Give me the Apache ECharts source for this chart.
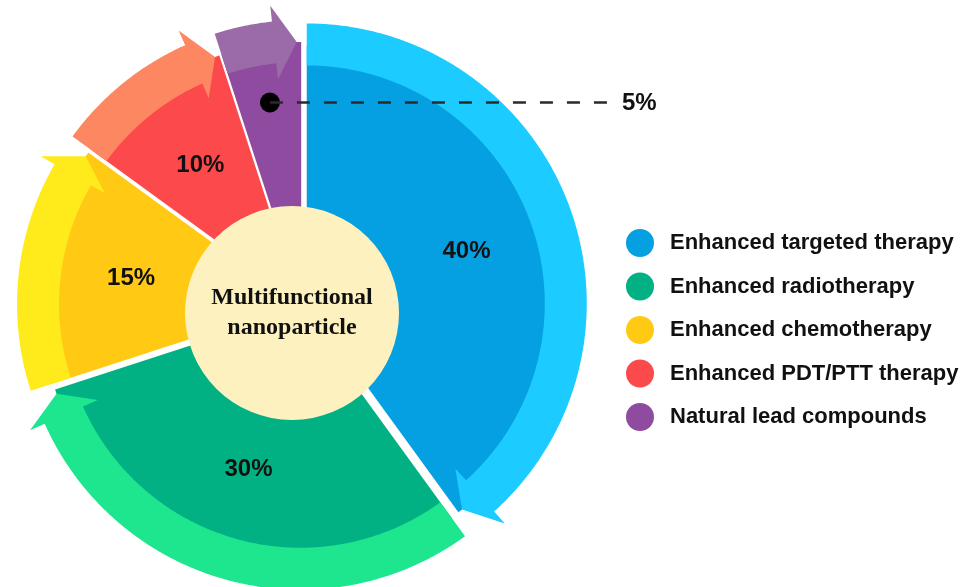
<!DOCTYPE html>
<html><head><meta charset="utf-8">
<script src="https://cdn.jsdelivr.net/npm/echarts@6/dist/echarts.min.js"></script>
<style>html,body{margin:0;padding:0;background:#fff}#c{width:962px;height:587px}</style>
</head><body><div id="c"></div>
<script>
// ---- data ----
const categories = ['Enhanced targeted therapy', 'Enhanced radiotherapy', 'Enhanced chemotherapy', 'Enhanced PDT/PTT therapy', 'Natural lead compounds'];
const values = [40, 30, 15, 10, 5];
const valueLabels = ['40%', '30%', '15%', '10%', '5%'];
const centerTitle = 'Multifunctional\nnanoparticle';

// ---- styles ----
const darkColors = ['#05A0E1', '#02B183', '#FFC914', '#FC4A4C', '#8E4B9F'];
const bandColors = ['#1CCBFF', '#1EE68F', '#FFEA1B', '#FC8760', '#9B6BA8'];
const creamColor = '#FEF1C0';

const starts = [];
let acc = 0;
values.forEach(v => { starts.push(acc); acc += v; });
const total = acc;

const R_DARK = 258, R_IN = 238, R_OUT = 280, R_TIP = 258, BARB_IN = 222, BARB_OUT = 296;
const HEAD = 6 / 360 * total, TIP_BACK = 1 / 360 * total;
const EXPLODE = 5, LABEL_R = 168, CALLOUT_R = 200, CALLOUT_END_X = 610, SMALL = 8;
const FONT_SANS = 'Liberation Sans, Arial, sans-serif';

function makeRender(i) {
  return function (params, api) {
    const s = api.value(0), e = api.value(1);
    const c = api.coord([0, 0]);
    const mid = (s + e) / 2;
    const m = api.coord([1, mid]);
    const ox = (m[0] - c[0]) * EXPLODE, oy = (m[1] - c[1]) * EXPLODE;
    const P = (r, a) => { const p = api.coord([r, a]); return [p[0] + ox, p[1] + oy]; };
    const arc = (r, a0, a1) => {
      const n = Math.max(2, Math.ceil(Math.abs(a1 - a0) / 0.1));
      const pts = [];
      for (let k = 0; k <= n; k++) pts.push(P(r, a0 + (a1 - a0) * k / n));
      return pts;
    };
    const dark = [P(0, s)].concat(arc(R_DARK, s, e));
    const band = arc(R_OUT, s, e - HEAD).concat(
      [P(BARB_OUT, e - HEAD), P(R_TIP, e - TIP_BACK), P(BARB_IN, e - HEAD)],
      arc(R_IN, e - HEAD, s));
    const children = [
      { type: 'polygon', shape: { points: dark }, style: { fill: darkColors[i] } },
      { type: 'polygon', shape: { points: band }, style: { fill: bandColors[i] } }
    ];
    if (values[i] >= SMALL) {
      const lp = P(LABEL_R, mid);
      children.push({ type: 'text', z2: 5, style: { text: valueLabels[i], x: lp[0], y: lp[1], align: 'center', verticalAlign: 'middle', fill: '#111', font: 'bold 24px ' + FONT_SANS } });
    } else {
      const dp = P(CALLOUT_R, mid);
      children.push({ type: 'circle', z2: 5, shape: { cx: dp[0], cy: dp[1], r: 10 }, style: { fill: '#000' } });
      children.push({ type: 'line', z2: 6, shape: { x1: dp[0], y1: dp[1], x2: CALLOUT_END_X, y2: dp[1] }, style: { stroke: '#2a2a2a', lineWidth: 2.6, lineDash: [13, 14] } });
      children.push({ type: 'text', z2: 5, style: { text: valueLabels[i], x: CALLOUT_END_X + 12, y: dp[1] + 1, align: 'left', verticalAlign: 'middle', fill: '#111', font: 'bold 24px ' + FONT_SANS } });
    }
    return { type: 'group', children: children };
  };
}

const series = categories.map((name, i) => ({
  type: 'custom',
  name: name,
  coordinateSystem: 'polar',
  clip: false,
  silent: true,
  itemStyle: { color: darkColors[i] },
  data: [[starts[i], starts[i] + values[i]]],
  renderItem: makeRender(i),
  z: 2
}));

series.push({
  type: 'pie',
  name: 'center',
  silent: true,
  z: 5,
  center: [292, 313],
  radius: [0, 107],
  emphasis: { disabled: true },
  itemStyle: { color: creamColor },
  labelLine: { show: false },
  label: {
    show: true, position: 'center', formatter: centerTitle,
    fontFamily: 'Liberation Serif, Times New Roman, serif', fontWeight: 'bold',
    fontSize: 24, lineHeight: 30, color: '#111'
  },
  data: [{ value: 1, name: 'center' }]
});

const chart = echarts.init(document.getElementById('c'), null, { renderer: 'canvas' });
chart.setOption({
  animation: false,
  backgroundColor: '#fff',
  polar: { center: [302, 305], radius: 300 },
  angleAxis: { type: 'value', min: 0, max: total, startAngle: 90, clockwise: true, show: false },
  radiusAxis: { type: 'value', min: 0, max: 300, show: false },
  legend: {
    data: categories,
    orient: 'vertical',
    left: 626, top: 229,
    padding: 0,
    icon: 'circle',
    itemWidth: 50, itemHeight: 28, itemGap: 15.5,
    selectedMode: false,
    textStyle: { fontSize: 22, fontWeight: 'bold', fontFamily: FONT_SANS, color: '#111' }
  },
  series: series
});
</script>
</body></html>
